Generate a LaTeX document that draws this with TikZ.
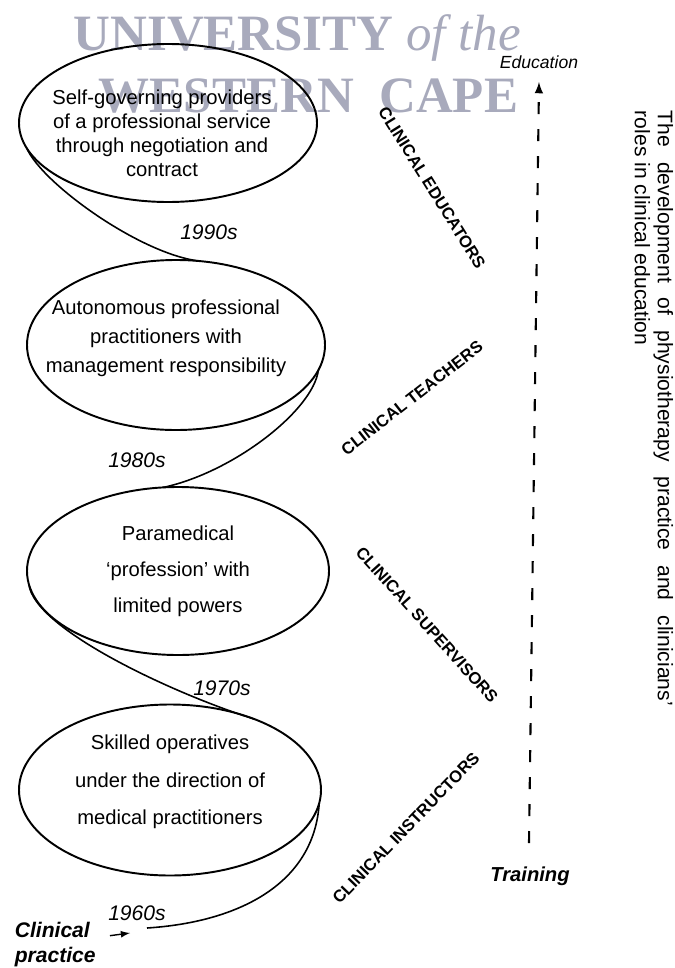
\documentclass[tikz,border=0pt]{standalone}
\usepackage{fontspec}
\setmainfont{Liberation Sans}
\newfontfamily\wmfont{Liberation Serif}
\usetikzlibrary{shapes, calc, arrows, positioning}
\definecolor{wmgray}{RGB}{168,170,188}

\begin{document}
\begin{tikzpicture}[x=0.2mm, y=-0.2mm, >=latex, line width=1.1pt,
    stage/.style={draw, ellipse, inner sep=0pt, outer sep=0pt},
    blurb/.style={align=center, font={\fontsize{11.5pt}{#1}\selectfont}},
    decade/.style={font=\fontsize{12pt}{14pt}\selectfont\itshape},
    role/.style={font=\fontsize{9.5pt}{10pt}\selectfont\bfseries, inner sep=0pt},
    pole/.style={font=\fontsize{11.5pt}{14.2pt}\selectfont\bfseries\itshape},
    wmark/.style={wmgray, anchor=base east, inner sep=0pt, font=\wmfont\fontsize{29pt}{30pt}\selectfont\bfseries},
    spiral/.style={line width=0.9pt}]
    \useasboundingbox (0,0) rectangle (675,968);

    \node[wmark] at (522,50) (wm1) {UNIVERSITY {\mdseries\itshape of the}};
    \node[wmark] at (519,112) (wm2) {WESTERN\ \ CAPE};

    \foreach \n/\x/\y/\w/\h in {1/168/123/298/158, 2/176/345/298/170, 3/178/571/302/168, 4/170/790/302/171} {
        \node[stage, minimum width=\w*0.2mm, minimum height=\h*0.2mm] at (\x,\y) (e\n) {};
    };
    \node[blurb=13.6pt] at (162,133) (t1) {Self-governing providers\\of a professional service\\through negotiation and\\contract};
    \node[blurb=16.5pt] at (166,338) (t2) {Autonomous professional\\practitioners with\\management responsibility};
    \node[blurb=20.5pt] at (178,571) (t3) {Paramedical\\`profession' with\\limited powers};
    \node[blurb=21.3pt] at (170,782) (t4) {Skilled operatives\\under the direction of\\medical practitioners};

    \coordinate (start) at (147,928);
    \draw[spiral] (e1.190) .. controls +(15,35) and +(-60,-8) .. (e2.75);
    \draw[spiral] (e2.350) .. controls +(-5,40) and +(70,-15) .. (e3.100);
    \draw[spiral] (e3.185) .. controls +(5,45) and +(-80,-25) .. (e4.40);
    \draw[spiral] (e4.355) .. controls +(-5,80) and +(93,-6) .. (start);

    \node[decade] at (209,232) (d90) {1990s};
    \node[decade] at (137,460) (d80) {1980s};
    \node[decade] at (222,688) (d70) {1970s};
    \node[decade] at (137,913) (d60) {1960s};

    \node[role, rotate=-58] at (432,188) (educators) {CLINICAL EDUCATORS};
    \node[role, rotate=38] at (412,398) (teachers) {CLINICAL TEACHERS};
    \node[role, rotate=-48] at (427,625) (supervisors) {CLINICAL SUPERVISORS};
    \node[role, rotate=46] at (406,828) (instructors) {CLINICAL INSTRUCTORS};

    \node[font=\fontsize{10pt}{12pt}\selectfont\itshape] at (539,62) (edu) {Education};
    \node[pole] at (530,876) (train) {Training};
    \coordinate (low) at (529,843);
    \coordinate (high) at (539,82);
    \draw[->, dash pattern=on 2.4mm off 3mm, line width=1.2pt] (low) -- (high);

    \node[pole, align=left, anchor=west, font=\fontsize{12pt}{14.2pt}\selectfont\bfseries\itshape] at (8,945) (practice) {Clinical\\practice};
    \coordinate (tip) at (130,933);
    \draw[->, line width=0.8pt, shorten <=1.5mm] (practice.10) -- (tip);

    \node[rotate=-90, anchor=north west, inner sep=0pt, align=left, font=\fontsize{12pt}{13pt}\selectfont] at (674,110) (title) {\makebox[119mm][s]{The development of physiotherapy practice and clinicians'}\\roles in clinical education};
\end{tikzpicture}
\end{document}
